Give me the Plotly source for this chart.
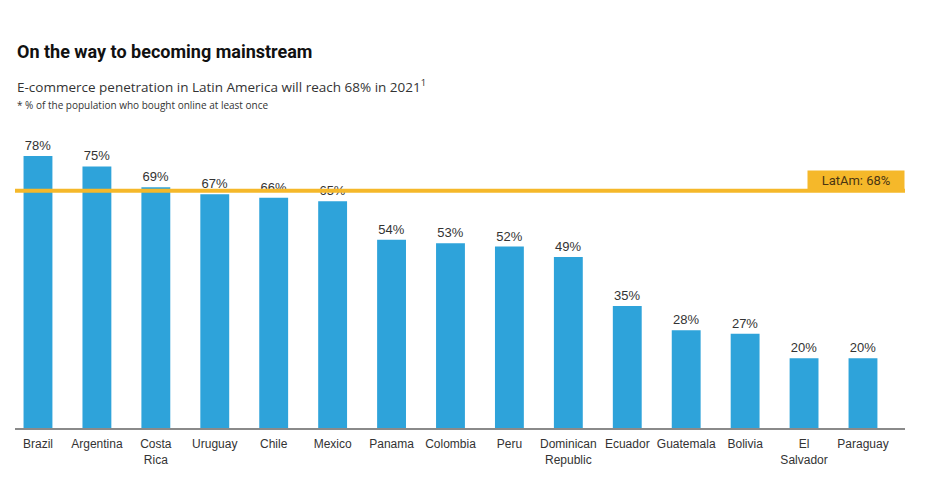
import plotly.graph_objects as go

countries = ["Brazil", "Argentina", "Costa<br>Rica", "Uruguay", "Chile", "Mexico", "Panama",
             "Colombia", "Peru", "Dominican<br>Republic", "Ecuador", "Guatemala", "Bolivia",
             "El<br>Salvador", "Paraguay"]
penetration = [78, 75, 69, 67, 66, 65, 54, 53, 52, 49, 35, 28, 27, 20, 20]
latam_avg = 68

BLUE = "#2EA3DA"
ORANGE = "#F5B82A"

# page body margin shifts the figure by 8px
OFF = 8
PLOT_TOP, PLOT_BOTTOM = 120 - OFF, 428 - OFF


def py(pixel_y):
    # screenshot pixel row -> paper y (paper spans the plot area)
    return (PLOT_BOTTOM - (pixel_y - OFF)) / (PLOT_BOTTOM - PLOT_TOP)


fig = go.Figure()

fig.add_trace(go.Bar(x=list(range(len(countries))),
                     y=penetration,
                     width=0.49,
                     marker=dict(color=BLUE, line=dict(width=0)),
                     text=[f"{v}%" for v in penetration],
                     textposition="outside",
                     textfont=dict(family="Liberation Sans, Arial", size=13, color="#333333"),
                     cliponaxis=False,
                     hoverinfo="skip"))

# average line + label
fig.add_shape(type="line", xref="paper", x0=0, x1=1, yref="y", y0=latam_avg, y1=latam_avg,
              line=dict(color=ORANGE, width=4), layer="above")
fig.add_annotation(xref="paper", x=1, xanchor="right", yref="y", y=latam_avg, yanchor="bottom",
                   yshift=0, text="LatAm: 68%", showarrow=False,
                   bgcolor=ORANGE, borderpad=2, width=92,
                   font=dict(family="Roboto", size=13, color="#4A3512"))

# titles
fig.add_annotation(xref="paper", yref="paper", x=0, y=py(51), xanchor="left", yanchor="middle",
                   showarrow=False, text="<b>On the way to becoming mainstream</b>",
                   font=dict(family="Roboto", size=18, color="#111111"))
fig.add_annotation(xref="paper", yref="paper", x=0, y=py(86), xanchor="left", yanchor="middle",
                   showarrow=False,
                   text="E-commerce penetration in Latin America will reach 68% in 2021<sup>1</sup>",
                   font=dict(family="Open Sans", size=13.5, color="#333333"))
fig.add_annotation(xref="paper", yref="paper", x=0, y=py(105), xanchor="left", yanchor="middle",
                   showarrow=False,
                   text="* % of the population who bought online at least once",
                   font=dict(family="Open Sans", size=10, color="#333333"))

fig.update_layout(
    width=925, height=492,
    margin=dict(l=15 - OFF, r=925 - (905 - OFF), t=PLOT_TOP, b=492 - PLOT_BOTTOM, autoexpand=False),
    paper_bgcolor="white", plot_bgcolor="white",
    showlegend=False,
    bargap=0.5,
    xaxis=dict(range=[-0.39, 14.713], tickmode="array",
               tickvals=list(range(len(countries))), ticktext=countries,
               showgrid=False, zeroline=False, showline=True, linecolor="#8a8a8a", linewidth=2,
               ticks="", ticklabelstandoff=4, automargin=False,
               tickfont=dict(family="Liberation Sans, Arial", size=12, color="#333333")),
    yaxis=dict(range=[0, 88.3], visible=False, showgrid=False, zeroline=False, automargin=False),
)

fig.write_html("out.html")
